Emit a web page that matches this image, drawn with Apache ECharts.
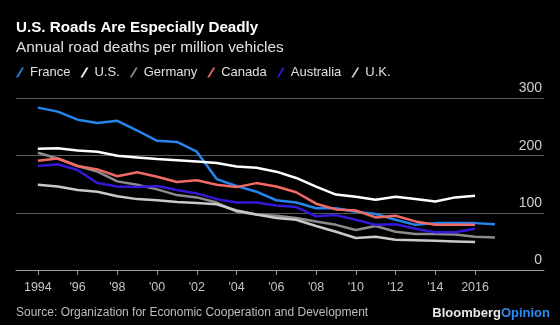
<!DOCTYPE html>
<html>
<head>
<meta charset="utf-8">
<script src="https://cdn.jsdelivr.net/npm/echarts@6/dist/echarts.min.js"></script>
<style>
html,body{margin:0;padding:0;background:#000;}
#chart{width:560px;height:325px;}
</style>
</head>
<body>
<div id="chart"></div>
<script>
const years = [1994,1995,1996,1997,1998,1999,2000,2001,2002,2003,2004,2005,2006,2007,2008,2009,2010,2011,2012,2013,2014,2015,2016,2017];
const seriesNames = ['France','U.S.','Germany','Canada','Australia','U.K.'];
const france    = [284,277,263,257,261,244,226,224,207,159,147,137,122,118,108,108,102,98,88,79,82,82,82,80];
const us        = [212,213,209,207,200,197,194,192,190,187,181,179,172,161,146,132,128,123,128,124,120,127,130];
const germany   = [205,195,182,172,155,149,141,131,127,118,102,97,95,91,85,79,70,77,67,63,63,62,58,57];
const canada    = [191,195,182,176,164,171,163,154,157,149,145,152,146,136,116,106,104,92,95,85,79,79,79];
const australia = [182,185,175,152,146,145,147,140,134,124,118,118,113,110,94,96,88,79,80,72,66,66,72];
const uk        = [149,146,140,137,129,124,122,119,117,115,104,97,91,88,77,67,56,58,53,52,51,50,49];
const tickYears = [1994,1996,1998,2000,2002,2004,2006,2008,2010,2012,2014,2016];
const yTicks = [0,100,200,300];

const colors = ['#2585ec','#ffffff','#8c8c8c','#f26a66','#3319d6','#c9c9c9'];
const allValues = [france, us, germany, canada, australia, uk];

function pairs(vals){ return vals.map((v,i)=>[years[i], v]); }

const chart = echarts.init(document.getElementById('chart'));
const slash = 'path://M0,10 L6,0 L8,0 L2,10 Z';

chart.setOption({
  backgroundColor: '#000',
  animation: false,
  color: colors,
  textStyle: {fontFamily: 'Liberation Sans, Arial, sans-serif'},
  title: [
    {text: 'U.S. Roads Are Especially Deadly', left: 11, top: 15,
     textStyle: {color:'#fff', fontSize: 15.2, fontWeight: 'bold', fontFamily: 'Liberation Sans'}},
    {text: 'Annual road deaths per million vehicles', left: 11, top: 35,
     textStyle: {color:'#e0e0e0', fontSize: 15.4, fontWeight: 'normal', fontFamily: 'Liberation Sans'}},
    {text: 'Source: Organization for Economic Cooperation and Development', left: 11, top: 302,
     textStyle: {color:'#bdbdbd', fontSize: 12, fontWeight: 'normal', fontFamily: 'Liberation Sans'}},
    {text: '{a|Bloomberg}{b|Opinion}', right: 5, top: 302,
     textStyle: {rich: {
       a: {color:'#e8e8e8', fontSize: 13, fontWeight: 'bold', fontFamily: 'Liberation Sans'},
       b: {color:'#2b8cf5', fontSize: 13, fontWeight: 'bold', fontFamily: 'Liberation Sans'}
     }}}
  ],
  legend: {
    left: 11, top: 61,
    itemWidth: 10, itemHeight: 10, itemGap: 10,
    icon: slash,
    textStyle: {color:'#e0e0e0', fontSize: 13, fontFamily: 'Liberation Sans'},
    data: seriesNames
  },
  grid: {left: 16, right: 16, top: 98.5, bottom: 55},
  xAxis: {
    type: 'value', min: 1992.9, max: 2019.47,
    axisLine: {show: true, lineStyle: {color:'#9a9a9a', width: 1}},
    axisTick: {show: true, length: 5, lineStyle: {color:'#9a9a9a'}, customValues: tickYears},
    axisLabel: {color:'#c4c4c4', fontSize: 12.5, margin: 11, customValues: tickYears,
      formatter: function(v){ return (v===1994||v===2016) ? String(v) : "'" + String(v).slice(2); }},
    splitLine: {show: false}
  },
  yAxis: {
    type: 'value', position: 'right', min: 0, max: 300, interval: 100,
    axisLine: {show: false}, axisTick: {show: false},
    axisLabel: {inside: true, margin: 2, color:'#d0d0d0', fontSize: 14, verticalAlign: 'bottom', padding: [0,0,3,0]},
    splitLine: {show: true, lineStyle: {color:'#5a5a5a', width: 1}}
  },
  series: seriesNames.map((n,i)=>({
    name: n, type: 'line', data: pairs(allValues[i]),
    showSymbol: false, symbol: 'none',
    lineStyle: {width: 2.5, color: colors[i]},
    itemStyle: {color: colors[i]}
  }))
});
</script>
</body>
</html>
